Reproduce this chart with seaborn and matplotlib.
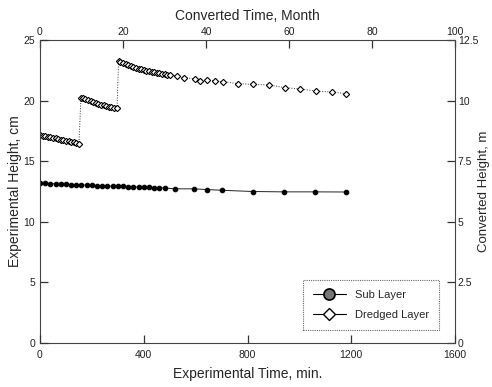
import matplotlib
matplotlib.use("Agg")
import matplotlib.pyplot as plt
import seaborn as sns
from matplotlib.lines import Line2D

sns.set_style("ticks")
plt.rcParams['font.family'] = ['Liberation Sans', 'DejaVu Sans']
plt.rcParams['axes.axisbelow'] = False

# ------ data ------ #
sub_time = [0, 20, 40, 60, 80, 100, 120, 140, 160, 180, 200, 220, 240, 260,
            280, 300, 320, 340, 360, 380, 400, 420, 440, 460, 480,
            520, 593, 644, 702, 822, 940, 1060, 1181]
sub_height = [13.20, 13.17, 13.15, 13.13, 13.11, 13.09, 13.07, 13.05, 13.04,
              13.02, 13.00, 12.99, 12.97, 12.96, 12.95, 12.97, 12.92, 12.90,
              12.89, 12.87, 12.86, 12.84, 12.83, 12.81, 12.80,
              12.72, 12.72, 12.66, 12.60, 12.50, 12.47, 12.47, 12.46]

dredged_time = [0, 10, 20, 30, 40, 50, 60, 70, 80, 90, 100, 110, 120, 130, 140, 150,
                158, 165, 175, 185, 195, 205, 215, 225, 235, 245, 255, 265, 275, 285, 297,
                303, 310, 320, 330, 340, 350, 360, 370, 380, 390, 400, 410, 420, 430,
                440, 450, 460, 470, 480, 490, 500,
                527, 556, 597, 616, 645, 676, 705, 765, 823, 884, 944, 1003, 1064,
                1124, 1181]
dredged_height = [17.15, 17.12, 17.07, 17.02, 16.98, 16.93, 16.88, 16.84, 16.79,
                  16.74, 16.70, 16.65, 16.60, 16.55, 16.50, 16.43,
                  20.25, 20.24, 20.16, 20.06, 19.96, 19.88, 19.80, 19.73, 19.66,
                  19.60, 19.54, 19.49, 19.45, 19.41, 19.36,
                  23.28, 23.18, 23.08, 22.98, 22.90, 22.82, 22.75, 22.68, 22.62,
                  22.57, 22.52, 22.47, 22.42, 22.37, 22.33, 22.29, 22.25, 22.21,
                  22.17, 22.13, 22.09,
                  22.03, 21.90, 21.80, 21.65, 21.70, 21.60, 21.56, 21.40, 21.34,
                  21.29, 21.07, 20.96, 20.80, 20.70, 20.58]

fig = plt.figure(figsize=(4.92, 3.87), dpi=100, facecolor="w")
ax = fig.add_axes([0.0813, 0.1137, 0.8435, 0.7829])

sns.lineplot(x=sub_time, y=sub_height, ax=ax, sort=False, estimator=None,
             color="#222222", linewidth=0.7, marker="o", markersize=3.3,
             markerfacecolor="black", markeredgecolor="black")
sns.lineplot(x=dredged_time, y=dredged_height, ax=ax, sort=False, estimator=None,
             color="#333333", linewidth=0.7, linestyle=":", marker="D",
             markersize=3.2, markerfacecolor="white", markeredgecolor="black",
             markeredgewidth=0.8)

ax.set_xlim(0, 1600)
ax.set_ylim(0, 25)
ax.set_xticks([0, 400, 800, 1200, 1600])
ax.set_yticks([0, 5, 10, 15, 20, 25])
ax.set_xlabel("Experimental Time, min.", fontsize=10, labelpad=5)
ax.set_ylabel("Experimental Height, cm", fontsize=10, labelpad=1)

for s in ax.spines.values():
    s.set_visible(True)
    s.set_linestyle((0, (1, 1)))
    s.set_linewidth(0.8)
    s.set_color("#444444")
ax.tick_params(axis="x", pad=5)
ax.tick_params(direction="in", length=6, width=0.9, labelsize=7.5,
               color="#333333", labelcolor="#222222", bottom=True, left=True)

top = ax.secondary_xaxis("top", functions=(lambda t: t / 16, lambda m: m * 16))
top.set_xticks([0, 20, 40, 60, 80, 100])
top.set_xlabel("Converted Time, Month", fontsize=10, labelpad=5)
top.tick_params(direction="in", length=6, width=0.9, labelsize=7.5, pad=2,
                color="#333333", labelcolor="#222222", top=True)
top.spines["top"].set_visible(False)

right = ax.secondary_yaxis("right", functions=(lambda h: h / 2, lambda c: c * 2))
right.set_yticks([0, 2.5, 5, 7.5, 10, 12.5])
right.set_yticklabels(["0", "2.5", "5", "7.5", "10", "12.5"])
right.set_ylabel("Converted Height, m", fontsize=9.5, labelpad=0)
right.tick_params(direction="in", length=6, width=0.9, labelsize=7.5, pad=2,
                  color="#333333", labelcolor="#222222", right=True)
right.spines["right"].set_visible(False)

handles = [
    Line2D([], [], color="black", linewidth=0.8, marker="o", markersize=8,
           markerfacecolor="#777777", markeredgecolor="black", markeredgewidth=1.2),
    Line2D([], [], color="black", linewidth=0.8, marker="D", markersize=6.5,
           markerfacecolor="white", markeredgecolor="black", markeredgewidth=1),
]
leg = ax.legend(handles, ["Sub Layer", "Dredged Layer"], loc="lower right",
                bbox_to_anchor=(0.975, 0.026), fontsize=8, frameon=True,
                fancybox=False, handlelength=3, borderpad=0.9, labelspacing=0.9)
leg.get_frame().set_edgecolor("#444444")
leg.get_frame().set_linestyle((0, (1, 1)))
leg.get_frame().set_linewidth(0.8)

plt.savefig("out.png", dpi=100)
